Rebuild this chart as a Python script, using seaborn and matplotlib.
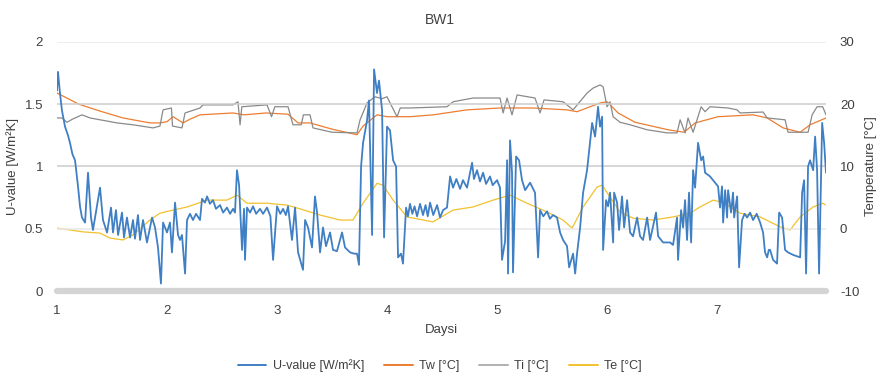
import numpy as np
import pandas as pd
import matplotlib
matplotlib.use("Agg")
import matplotlib.pyplot as plt
import seaborn as sns

# ---------------- data ----------------
u_day = [1.000, 1.009, 1.027, 1.045, 1.073, 1.100, 1.118, 1.140, 1.164, 1.191, 1.209, 1.227, 1.255,
         1.282, 1.309, 1.327, 1.391, 1.418, 1.455, 1.491, 1.509, 1.536, 1.555, 1.591, 1.609, 1.636,
         1.664, 1.691, 1.709, 1.736, 1.755, 1.782, 1.818, 1.864, 1.891, 1.918, 1.945, 1.964, 2.000,
         2.027, 2.045, 2.073, 2.100, 2.118, 2.136, 2.164, 2.182, 2.209, 2.236, 2.264, 2.300, 2.318,
         2.345, 2.364, 2.390, 2.418, 2.445, 2.482, 2.510, 2.545, 2.573, 2.600, 2.618, 2.636, 2.655,
         2.682, 2.700, 2.709, 2.727, 2.755, 2.782, 2.810, 2.845, 2.873, 2.909, 2.940, 2.964, 3.000,
         3.030, 3.055, 3.080, 3.100, 3.136, 3.164, 3.191, 3.236, 3.255, 3.282, 3.318, 3.345, 3.364,
         3.391, 3.418, 3.445, 3.482, 3.509, 3.545, 3.591, 3.618, 3.664, 3.700, 3.727, 3.745, 3.764,
         3.782, 3.818, 3.836, 3.864, 3.882, 3.909, 3.927, 3.955, 3.973, 4.000, 4.027, 4.055, 4.082,
         4.100, 4.127, 4.145, 4.173, 4.190, 4.209, 4.230, 4.250, 4.273, 4.300, 4.327, 4.350, 4.370,
         4.391, 4.420, 4.455, 4.482, 4.509, 4.545, 4.573, 4.600, 4.630, 4.664, 4.690, 4.727, 4.773,
         4.790, 4.818, 4.845, 4.873, 4.900, 4.936, 4.960, 5.000, 5.027, 5.045, 5.073, 5.091, 5.100,
         5.118, 5.136, 5.145, 5.173, 5.200, 5.227, 5.255, 5.300, 5.345, 5.373, 5.391, 5.420, 5.455,
         5.480, 5.509, 5.545, 5.573, 5.600, 5.636, 5.655, 5.691, 5.710, 5.727, 5.755, 5.782, 5.818,
         5.845, 5.864, 5.891, 5.918, 5.936, 5.955, 5.964, 5.991, 6.009, 6.027, 6.055, 6.064, 6.091,
         6.109, 6.136, 6.155, 6.182, 6.209, 6.236, 6.273, 6.300, 6.327, 6.364, 6.391, 6.445, 6.464,
         6.509, 6.573, 6.600, 6.636, 6.645, 6.673, 6.691, 6.709, 6.727, 6.745, 6.764, 6.782, 6.800,
         6.827, 6.855, 6.873, 6.891, 6.936, 6.982, 7.009, 7.027, 7.045, 7.055, 7.073, 7.091, 7.100,
         7.127, 7.145, 7.155, 7.182, 7.200, 7.227, 7.250, 7.273, 7.300, 7.327, 7.360, 7.391, 7.418,
         7.436, 7.455, 7.470, 7.482, 7.509, 7.545, 7.564, 7.591, 7.618, 7.645, 7.691, 7.755, 7.773,
         7.791, 7.809, 7.827, 7.845, 7.873, 7.891, 7.909, 7.927, 7.955, 7.973, 7.990]
u_value = [1.61, 1.76, 1.59, 1.45, 1.32, 1.25, 1.19, 1.10, 1.05, 0.84, 0.68, 0.59, 0.55,
           0.95, 0.59, 0.49, 0.83, 0.57, 0.47, 0.67, 0.47, 0.65, 0.45, 0.63, 0.43, 0.59,
           0.43, 0.57, 0.42, 0.61, 0.41, 0.57, 0.39, 0.59, 0.51, 0.35, 0.06, 0.55, 0.47,
           0.55, 0.31, 0.71, 0.45, 0.41, 0.45, 0.14, 0.57, 0.62, 0.57, 0.62, 0.57, 0.74,
           0.71, 0.76, 0.70, 0.73, 0.66, 0.69, 0.63, 0.67, 0.62, 0.66, 0.63, 0.97, 0.85,
           0.33, 0.66, 0.25, 0.67, 0.63, 0.68, 0.62, 0.66, 0.62, 0.67, 0.60, 0.25, 0.68,
           0.62, 0.66, 0.61, 0.68, 0.41, 0.67, 0.31, 0.17, 0.57, 0.51, 0.35, 0.76, 0.63,
           0.31, 0.51, 0.36, 0.47, 0.33, 0.32, 0.47, 0.35, 0.31, 0.30, 0.30, 0.21, 1.00,
           1.19, 1.37, 1.53, 0.45, 1.78, 1.59, 1.69, 1.45, 0.43, 1.32, 1.29, 1.05, 1.00,
           0.27, 0.30, 0.22, 0.67, 0.60, 0.70, 0.62, 0.68, 0.60, 0.70, 0.61, 0.69, 0.60,
           0.71, 0.61, 0.69, 0.59, 0.65, 0.67, 0.92, 0.83, 0.90, 0.82, 0.89, 0.83, 1.03,
           0.90, 0.97, 0.88, 0.95, 0.86, 0.92, 0.85, 0.89, 0.83, 0.25, 0.40, 1.05, 0.14,
           1.21, 0.95, 0.15, 1.08, 1.05, 0.89, 0.81, 0.87, 0.79, 0.27, 0.65, 0.60, 0.64,
           0.58, 0.61, 0.59, 0.47, 0.41, 0.36, 0.19, 0.30, 0.14, 0.30, 0.51, 0.79, 0.97,
           1.19, 1.35, 1.24, 1.48, 1.32, 1.40, 0.33, 0.73, 0.68, 0.79, 0.39, 0.79, 0.71,
           0.49, 0.76, 0.51, 0.73, 0.47, 0.44, 0.59, 0.44, 0.41, 0.59, 0.41, 0.63, 0.44,
           0.39, 0.39, 0.37, 0.59, 0.25, 0.65, 0.51, 0.73, 0.41, 0.79, 0.39, 0.97, 0.83,
           1.19, 1.05, 1.08, 0.95, 0.92, 0.87, 0.84, 0.67, 0.84, 0.55, 0.81, 0.59, 0.81,
           0.63, 0.79, 0.59, 0.76, 0.19, 0.57, 0.62, 0.59, 0.63, 0.57, 0.62, 0.55, 0.47,
           0.31, 0.27, 0.33, 0.33, 0.25, 0.22, 0.63, 0.59, 0.33, 0.31, 0.29, 0.27, 0.79,
           0.89, 0.14, 1.00, 1.05, 0.97, 1.24, 0.97, 0.14, 1.35, 1.19, 0.95]

tw_day = [1.000, 1.200, 1.391, 1.600, 1.845, 1.936, 2.000, 2.055, 2.100, 2.145, 2.209, 2.300,
          2.600, 2.700, 2.900, 3.100, 3.191, 3.300, 3.500, 3.727, 3.782, 3.909, 4.000, 4.209,
          4.420, 4.727, 5.027, 5.327, 5.636, 5.727, 5.936, 6.000, 6.045, 6.100, 6.255, 6.555,
          6.700, 6.800, 7.009, 7.327, 7.455, 7.600, 7.755, 7.845, 7.990]
tw_temp = [21.8, 20.0, 18.9, 17.8, 17.0, 17.0, 17.2, 18.0, 17.5, 17.0, 17.6, 18.3,
           18.6, 18.3, 18.6, 18.4, 17.0, 17.0, 16.0, 15.1, 16.5, 18.3, 18.0, 18.0,
           18.3, 19.1, 19.4, 19.4, 19.1, 18.8, 20.2, 20.4, 19.6, 18.6, 17.1, 15.9,
           15.5, 17.0, 18.0, 18.3, 17.8, 16.2, 15.5, 16.7, 17.8]

ti_day = [1.000, 1.045, 1.091, 1.140, 1.227, 1.300, 1.391, 1.455, 1.545, 1.691, 1.873, 1.936,
          1.964, 2.040, 2.050, 2.136, 2.164, 2.300, 2.327, 2.600, 2.645, 2.664, 2.680, 2.909,
          2.950, 2.980, 3.100, 3.145, 3.220, 3.240, 3.300, 3.327, 3.500, 3.727, 3.755, 3.818,
          3.890, 3.955, 4.000, 4.045, 4.091, 4.120, 4.210, 4.545, 4.600, 4.782, 5.027, 5.055,
          5.091, 5.136, 5.182, 5.345, 5.391, 5.427, 5.600, 5.691, 5.818, 5.873, 5.936, 5.964,
          6.000, 6.027, 6.055, 6.118, 6.209, 6.364, 6.545, 6.636, 6.664, 6.709, 6.736, 6.782,
          6.855, 6.891, 6.936, 7.100, 7.182, 7.209, 7.418, 7.455, 7.618, 7.645, 7.827, 7.864,
          7.909, 7.960, 7.990]
ti_temp = [17.8, 17.8, 17.1, 17.6, 18.3, 17.8, 17.5, 17.3, 17.0, 16.7, 16.2, 16.5,
           19.1, 19.4, 16.5, 16.2, 18.6, 19.4, 19.9, 19.9, 20.4, 16.7, 19.6, 19.9,
           18.0, 19.6, 19.6, 16.7, 16.7, 18.3, 18.3, 16.2, 15.5, 15.4, 17.5, 20.2,
           21.2, 20.9, 21.2, 19.6, 18.0, 19.4, 19.4, 19.6, 20.4, 21.0, 21.0, 18.6,
           21.0, 18.3, 21.5, 21.0, 18.6, 20.7, 20.4, 19.1, 21.8, 22.6, 23.1, 22.8,
           19.6, 20.4, 18.0, 17.1, 16.7, 15.9, 15.4, 15.4, 17.5, 15.4, 17.8, 15.5,
           19.6, 18.8, 19.6, 19.4, 19.1, 18.6, 18.75, 17.8, 17.5, 15.5, 15.5, 18.3,
           19.6, 19.6, 18.3]

te_day = [1.000, 1.236, 1.391, 1.482, 1.600, 1.691, 1.845, 1.936, 2.055, 2.182, 2.364, 2.545,
          2.636, 2.727, 2.909, 3.091, 3.209, 3.391, 3.573, 3.691, 3.782, 3.909, 3.964, 4.055,
          4.182, 4.418, 4.600, 4.782, 4.964, 5.118, 5.273, 5.455, 5.600, 5.682, 5.782, 5.909,
          5.955, 6.027, 6.118, 6.236, 6.418, 6.600, 6.755, 6.845, 6.964, 7.055, 7.209, 7.391,
          7.573, 7.664, 7.755, 7.873, 7.960, 7.990]
te_temp = [0.1, -0.5, -0.7, -1.5, -1.8, -1.0, 1.4, 2.5, 3.0, 3.5, 4.6, 4.6,
           5.4, 4.1, 4.1, 3.8, 3.2, 2.2, 1.4, 1.4, 4.1, 7.3, 7.0, 4.6,
           1.9, 1.1, 3.0, 3.5, 4.6, 5.4, 4.1, 2.7, 1.4, 0.1, 3.5, 6.7,
           7.0, 5.1, 2.7, 1.7, 1.4, 1.9, 2.5, 3.5, 4.6, 4.2, 2.5, 1.9,
           0.3, -0.2, 1.9, 3.5, 4.1, 3.8]

day_ticks = [1, 2, 3, 4, 5, 6, 7]
u_ticks = [0, 0.5, 1, 1.5, 2]
u_tick_labels = ["0", "0.5", "1", "1.5", "2"]
t_ticks = [-10, 0, 10, 20, 30]
t_tick_labels = ["-10", "0", "10", "20", "30"]

title = "BW1"
xlabel = "Daysi"
ylabel_left = "U-value [W/m²K]"
ylabel_right = "Temperature [°C]"
names = ["U-value [W/m²K]", "Tw [°C]", "Ti [°C]", "Te [°C]"]

# ---------------- plot ----------------
sns.set_theme(style="white")
plt.rcParams['font.family'] = ['Liberation Sans', 'DejaVu Sans']
plt.rcParams['axes.unicode_minus'] = False
TXT = "#404040"

fig = plt.figure(figsize=(8.79, 3.79), dpi=100)
ax = fig.add_axes([57/879, 1-291/379, (826-57)/879, (291-42)/379])
ax2 = ax.twinx()

c_u, c_tw, c_ti, c_te = "#3f7fc4", "#ED7D31", "#8a8a8a", "#F2C12E"

sns.lineplot(x=tw_day, y=tw_temp, ax=ax2, color=c_tw, lw=0.9, estimator=None, sort=False)
sns.lineplot(x=ti_day, y=ti_temp, ax=ax2, color=c_ti, lw=0.9, estimator=None, sort=False)
sns.lineplot(x=te_day, y=te_temp, ax=ax2, color=c_te, lw=0.9, estimator=None, sort=False)
sns.lineplot(x=u_day, y=u_value, ax=ax, color=c_u, lw=1.3, estimator=None, sort=False)

ax.set_zorder(ax2.get_zorder() + 1)
ax.patch.set_visible(False)

ax.set_xlim(1, 7.99)
ax.set_ylim(0, 2)
ax2.set_ylim(-10, 30)
ax.set_xticks(day_ticks)
ax.set_yticks(u_ticks)
ax.set_yticklabels(u_tick_labels)
ax2.set_yticks(t_ticks)
ax2.set_yticklabels(t_tick_labels)

# gridlines
for v, c in zip([0.5, 1, 1.5, 2], ["#e8e8e8", "#cccccc", "#cccccc", "#e8e8e8"]):
    ax.axhline(v, color=c, lw=1.1, zorder=0)
ax.axhline(0, color="#d4d4d4", lw=4.5, zorder=0.5, clip_on=False)

for a in (ax, ax2):
    for s in a.spines.values():
        s.set_visible(False)
    a.tick_params(length=0, labelsize=9.5, colors=TXT)
    a.grid(False)
ax.tick_params(axis='x', pad=10)
ax.tick_params(axis='y', pad=10)
ax2.tick_params(axis='y', pad=10)

ax.set_xlabel(xlabel, fontsize=9.5, color=TXT, labelpad=5)
ax.set_ylabel(ylabel_left, fontsize=9.5, color=TXT, labelpad=4)
ax2.set_ylabel(ylabel_right, fontsize=9.5, color=TXT, labelpad=4)
fig.text(0.5, 1-20/379, title, ha="center", va="center", fontsize=10, color=TXT)

handles = [plt.Line2D([], [], color=c, lw=1.4) for c in [c_u, c_tw, "#b0b0b0", c_te]]
fig.legend(handles, names, loc="center", bbox_to_anchor=(0.5, 1-366/379), ncol=4,
           frameon=False, fontsize=9, handlelength=2.3, columnspacing=1.6,
           handletextpad=0.5, labelcolor=TXT)

fig.savefig("out.png", dpi=100)
